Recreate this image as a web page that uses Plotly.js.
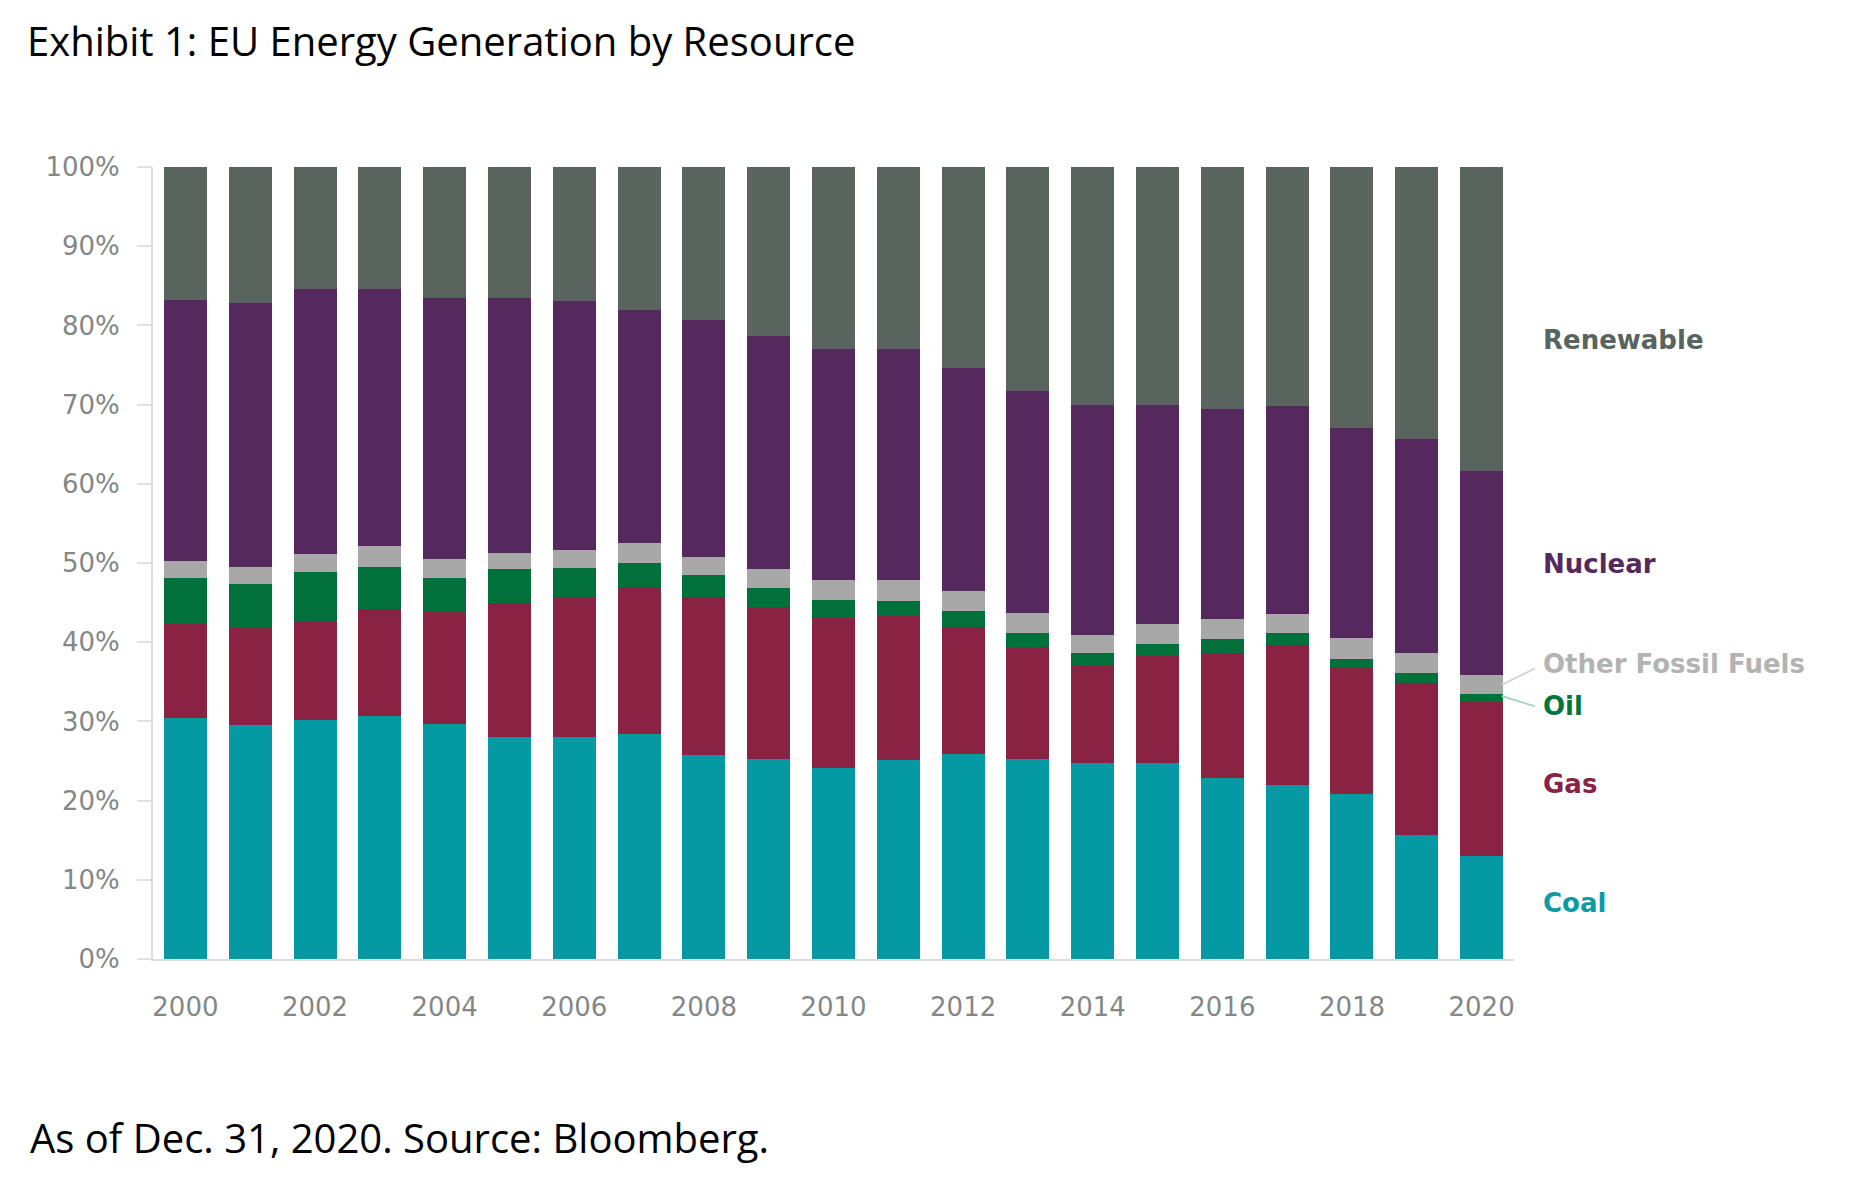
<!DOCTYPE html>
<html>
<head>
<meta charset="utf-8">
<script src="https://cdn.plot.ly/plotly-3.0.1.min.js"></script>
<style>
    body { margin: 0; background: #ffffff; }
    #graphique { width: 1861px; height: 1195px; }
</style>
</head>
<body>
<div id="graphique"></div>
<script>
// years on the x axis, ticks every other year
var years = ['2000', '2001', '2002', '2003', '2004', '2005', '2006', '2007', '2008', '2009', '2010',
             '2011', '2012', '2013', '2014', '2015', '2016', '2017', '2018', '2019', '2020'];
var yearTicks = ['2000', '2002', '2004', '2006', '2008', '2010', '2012', '2014', '2016', '2018', '2020'];

// share of generation (%)
var coal = [30.4, 29.6, 30.2, 30.7, 29.7, 28.0, 28.0, 28.4, 25.8, 25.2, 24.1, 25.1, 25.9, 25.3, 24.8, 24.8, 22.9, 22.0, 20.8, 15.7, 13.0];
var gas = [11.9, 12.2, 12.5, 13.5, 14.1, 17.0, 17.7, 18.6, 19.9, 19.3, 18.9, 18.2, 16.0, 14.1, 12.2, 13.5, 15.8, 17.7, 15.9, 19.2, 19.4];
var oil = [5.8, 5.5, 6.2, 5.3, 4.3, 4.2, 3.7, 3.0, 2.8, 2.4, 2.3, 1.9, 2.0, 1.7, 1.6, 1.5, 1.7, 1.4, 1.2, 1.2, 1.1];
var otherFossil = [2.1, 2.2, 2.2, 2.6, 2.4, 2.1, 2.2, 2.5, 2.2, 2.3, 2.5, 2.7, 2.6, 2.6, 2.3, 2.5, 2.5, 2.5, 2.6, 2.5, 2.4];
var nuclear = [33.0, 33.3, 33.5, 32.5, 33.0, 32.2, 31.5, 29.5, 30.0, 29.5, 29.2, 29.1, 28.1, 28.0, 29.1, 27.7, 26.6, 26.2, 26.6, 27.0, 25.7];
var renewable = [16.8, 17.2, 15.4, 15.4, 16.5, 16.5, 16.9, 18.0, 19.3, 21.3, 23.0, 23.0, 25.4, 28.3, 30.0, 30.0, 30.5, 30.2, 32.9, 34.4, 38.4];

var yTicks = [0, 10, 20, 30, 40, 50, 60, 70, 80, 90, 100];
var yTickText = ['0%', '10%', '20%', '30%', '40%', '50%', '60%', '70%', '80%', '90%', '100%'];

document.addEventListener('DOMContentLoaded', function() {
    creerGraphique();
});

function serie(nom, valeurs, couleur) {
    return {
        x: years,
        y: valeurs,
        name: nom,
        type: 'bar',
        marker: { color: couleur, line: { width: 0 } },
        hoverinfo: 'x+y+name'
    };
}

function creerGraphique() {
    var traces = [
        serie('Coal', coal, '#0599a3'),
        serie('Gas', gas, '#8a2244'),
        serie('Oil', oil, '#01703a'),
        serie('Other Fossil Fuels', otherFossil, '#a8a8a8'),
        serie('Nuclear', nuclear, '#56295e'),
        serie('Renewable', renewable, '#59645f')
    ];

    // labels on the right of the last bar
    function etiquette(texte, y, couleur) {
        return {
            text: '<b>' + texte + '</b>',
            xref: 'paper', yref: 'y',
            x: 1.0195, y: y,
            xanchor: 'left', yanchor: 'middle',
            showarrow: false,
            font: { family: 'DejaVu Sans', size: 26, color: couleur }
        };
    }

    var layout = {
        width: 1861,
        height: 1195,
        title: {
            text: 'Exhibit 1: EU Energy Generation by Resource',
            font: { family: 'Open Sans', size: 40, color: '#000000' },
            xref: 'container', yref: 'container',
            x: 0.0145, xanchor: 'left',
            y: 1 - 42 / 1195, yanchor: 'middle'
        },
        barmode: 'stack',
        bargap: 0.336,
        showlegend: false,
        xaxis: {
            type: 'category',
            tickvals: yearTicks,
            ticktext: yearTicks,
            tickfont: { family: 'DejaVu Sans', size: 26, color: '#838886' },
            ticks: 'outside',
            ticklen: 24,
            tickcolor: 'rgba(0,0,0,0)',
            showline: true,
            linecolor: '#dcdcdc',
            linewidth: 2,
            showgrid: false,
            zeroline: false,
            fixedrange: true
        },
        yaxis: {
            range: [0, 100],
            tickvals: yTicks,
            ticktext: yTickText,
            tickfont: { family: 'DejaVu Sans', size: 26, color: '#838886' },
            ticks: 'outside',
            ticklen: 14,
            tickcolor: '#e2e2e2',
            tickwidth: 2,
            ticklabelstandoff: 12,
            showline: true,
            linecolor: '#dcdcdc',
            linewidth: 2,
            showgrid: false,
            zeroline: false,
            fixedrange: true
        },
        annotations: [
            etiquette('Renewable', 78.2, '#58645f'),
            etiquette('Nuclear', 49.9, '#56295e'),
            etiquette('Other Fossil Fuels', 37.2, '#b3b3b3'),
            etiquette('Oil', 31.9, '#01753a'),
            etiquette('Gas', 22.1, '#8b2143'),
            etiquette('Coal', 7.1, '#0c9aa5'),
            {
                text: 'As of Dec. 31, 2020. Source: Bloomberg.',
                xref: 'paper', yref: 'paper',
                x: -0.092, y: -0.226,
                xanchor: 'left', yanchor: 'middle',
                showarrow: false,
                font: { family: 'Open Sans', size: 40, color: '#000000' }
            }
        ],
        // little leader lines toward the two thin segments
        shapes: [
            { type: 'line', xref: 'paper', yref: 'y', x0: 0.991, y0: 34.6, x1: 1.0154, y1: 36.7,
              line: { color: '#d6d6d6', width: 2 } },
            { type: 'line', xref: 'paper', yref: 'y', x0: 0.991, y0: 33.2, x1: 1.0154, y1: 31.9,
              line: { color: '#a8d8c0', width: 2 } }
        ],
        plot_bgcolor: '#ffffff',
        paper_bgcolor: '#ffffff',
        margin: { t: 167, b: 236, l: 153, r: 347, pad: 0 }
    };

    Plotly.newPlot('graphique', traces, layout, { displayModeBar: false, staticPlot: true });
}
</script>
</body>
</html>
